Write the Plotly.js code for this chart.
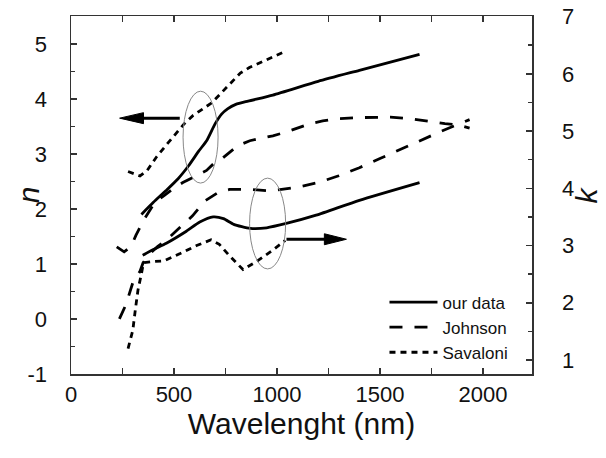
<!DOCTYPE html>
<html>
<head>
<meta charset="utf-8">
<script src="https://cdn.plot.ly/plotly-3.0.1.min.js"></script>
<style>html,body{margin:0;padding:0;background:#fff;}#chart{width:606px;height:458px;}</style>
</head>
<body>
<div id="chart"></div>
<script>
// ---- data ----
const ourWlN   = [342, 400, 460, 520, 570, 620, 660, 700, 730, 760, 800, 860, 980, 1200, 1400, 1692];
const ourN     = [1.90, 2.12, 2.33, 2.55, 2.78, 3.05, 3.25, 3.55, 3.72, 3.82, 3.90, 3.96, 4.07, 4.32, 4.52, 4.81];
const ourWlK   = [348, 400, 463, 560, 625, 690, 740, 790, 870, 950, 1050, 1190, 1400, 1692];
const ourK     = [2.83, 2.93, 3.04, 3.25, 3.41, 3.50, 3.47, 3.37, 3.30, 3.31, 3.39, 3.53, 3.79, 4.10];

const johWlN   = [222, 258, 292, 315, 350, 372, 407, 455, 503, 543, 610, 658, 700, 738, 810, 868, 917, 980, 1047, 1110, 1160, 1222, 1300, 1400, 1550, 1650, 1760, 1815, 1877, 1935];
const johN     = [1.31, 1.22, 1.32, 1.52, 1.78, 1.92, 2.12, 2.25, 2.39, 2.48, 2.60, 2.70, 2.85, 2.93, 3.15, 3.24, 3.28, 3.33, 3.40, 3.48, 3.55, 3.60, 3.64, 3.66, 3.67, 3.64, 3.58, 3.55, 3.53, 3.47];
const johWlK   = [235, 262, 280, 300, 335, 350, 380, 420, 470, 540, 590, 650, 720, 770, 870, 950, 1000, 1100, 1200, 1300, 1400, 1500, 1600, 1700, 1800, 1935];
const johK     = [1.72, 1.93, 2.12, 2.35, 2.55, 2.70, 2.85, 2.98, 3.12, 3.36, 3.52, 3.78, 3.94, 3.98, 3.98, 3.96, 3.97, 4.02, 4.10, 4.22, 4.36, 4.52, 4.68, 4.83, 5.00, 5.20];

const savWlN   = [277, 305, 335, 370, 414, 460, 500, 550, 593, 627, 684, 707, 760, 822, 866, 915, 968, 1037];
const savN     = [2.68, 2.64, 2.60, 2.70, 2.94, 3.15, 3.33, 3.55, 3.70, 3.78, 3.93, 4.02, 4.23, 4.47, 4.57, 4.65, 4.74, 4.86];
const savWlK   = [277, 300, 312, 325, 342, 352, 400, 450, 530, 610, 680, 720, 770, 835, 900, 980, 1040];
const savK     = [1.20, 1.52, 1.87, 2.22, 2.51, 2.70, 2.72, 2.73, 2.86, 3.00, 3.10, 3.02, 2.82, 2.58, 2.72, 2.92, 3.09];

const seriesNames = ["our data", "Johnson", "Savaloni"];
const nTickVals = [-1, 0, 1, 2, 3, 4, 5];
const nTickText = ["-1", "0", "1", "2", "3", "4", "5"];
const kTickVals = [1, 2, 3, 4, 5, 6, 7];
const kTickText = ["1", "2", "3", "4", "5", "6", "7"];
const xTickVals = [0, 500, 1000, 1500, 2000];
const xTickText = ["0", "500", "1000", "1500", "2000"];

// ---- styles ----
const FONT = "Arial, 'Liberation Sans', Helvetica, sans-serif";
const LW = 2.8;
const solid = {color: "#000", width: LW, dash: "solid"};
const longDash = {color: "#000", width: LW, dash: "13px,12px"};
const shortDash = {color: "#000", width: LW, dash: "6px,5px"};

const traces = [
  {x: ourWlN, y: ourN, name: seriesNames[0], legendgroup: "a", mode: "lines",
   line: Object.assign({shape: "spline", smoothing: 0.6}, solid), yaxis: "y"},
  {x: johWlN, y: johN, name: seriesNames[1], legendgroup: "b", mode: "lines",
   line: longDash, yaxis: "y"},
  {x: savWlN, y: savN, name: seriesNames[2], legendgroup: "c", mode: "lines",
   line: shortDash, yaxis: "y"},
  {x: ourWlK, y: ourK, name: seriesNames[0], legendgroup: "a", showlegend: false, mode: "lines",
   line: Object.assign({shape: "spline", smoothing: 0.6}, solid), yaxis: "y2"},
  {x: johWlK, y: johK, name: seriesNames[1], legendgroup: "b", showlegend: false, mode: "lines",
   line: longDash, yaxis: "y2"},
  {x: savWlK, y: savK, name: seriesNames[2], legendgroup: "c", showlegend: false, mode: "lines",
   line: shortDash, yaxis: "y2"}
];

const axisCommon = {
  showgrid: false, zeroline: false, showline: true, linecolor: "#333", linewidth: 1.5,
  ticks: "inside", ticklen: 6, tickwidth: 1.5, tickcolor: "#333",
  tickfont: {family: FONT, size: 22, color: "#111"}
};
const titleFont = {family: FONT, size: 30, color: "#111"};

const layout = {
  width: 606, height: 458,
  margin: {l: 71, r: 74, t: 16, b: 84, pad: 0},
  paper_bgcolor: "#fff", plot_bgcolor: "#fff",
  font: {family: FONT, color: "#111"},
  showlegend: true,
  legend: {x: 0.68, y: 0.25, xanchor: "left", yanchor: "top", bgcolor: "rgba(0,0,0,0)",
           font: {family: FONT, size: 17, color: "#111"}, itemwidth: 48, tracegroupgap: 0},
  xaxis: Object.assign({}, axisCommon, {
    range: [0, 2238], tickmode: "array", tickvals: xTickVals, ticktext: xTickText,
    mirror: "allticks",
    minor: {dtick: 250, ticks: "inside", ticklen: 4, tickwidth: 1.5, tickcolor: "#333"},
    title: {text: "Wavelenght (nm)", font: titleFont, standoff: 7}
  }),
  yaxis: Object.assign({}, axisCommon, {
    range: [-1, 5.507], tickmode: "array", tickvals: nTickVals, ticktext: nTickText,
    ticklabelstandoff: 18,
    minor: {dtick: 0.5, ticks: "inside", ticklen: 4, tickwidth: 1.5, tickcolor: "#333"}
  }),
  yaxis2: Object.assign({}, axisCommon, {
    range: [0.756, 7.01], overlaying: "y", side: "right", tickmode: "array",
    tickvals: kTickVals, ticktext: kTickText, ticklabelstandoff: 24,
    minor: {dtick: 0.5, ticks: "inside", ticklen: 4, tickwidth: 1.5, tickcolor: "#333"}
  }),
  annotations: [
    {text: "<i>n</i>", xref: "paper", yref: "paper", x: -0.093, y: 0.5, xanchor: "center", yanchor: "middle",
     textangle: -90, showarrow: false, font: titleFont},
    {text: "<i>k</i>", xref: "paper", yref: "paper", x: 1.118, y: 0.5, xanchor: "center", yanchor: "middle",
     textangle: -90, showarrow: false, font: titleFont}
  ],
  shapes: [
    // ellipses marking curve groups
    {type: "circle", xref: "x", yref: "y", x0: 544, x1: 714, y0: 2.47, y1: 4.14,
     line: {color: "#888", width: 1}},
    {type: "circle", xref: "x", yref: "y", x0: 867, x1: 1042, y0: 0.91, y1: 2.56,
     line: {color: "#888", width: 1}},
    // left arrow (n axis)
    {type: "line", xref: "x", yref: "y", x0: 345, x1: 528, y0: 3.65, y1: 3.65,
     line: {color: "#000", width: 3}},
    {type: "path", xref: "x", yref: "y", path: "M236,3.65 L352,3.75 L352,3.55 Z",
     fillcolor: "#000", line: {color: "#000", width: 1}},
    // right arrow (k axis)
    {type: "line", xref: "x", yref: "y2", x0: 1046, x1: 1240, y0: 3.11, y1: 3.11,
     line: {color: "#000", width: 3}},
    {type: "path", xref: "x", yref: "y2", path: "M1337,3.11 L1230,3.206 L1230,3.014 Z",
     fillcolor: "#000", line: {color: "#000", width: 1}}
  ]
};

Plotly.newPlot("chart", traces, layout, {displayModeBar: false, staticPlot: true});
</script>
</body>
</html>
